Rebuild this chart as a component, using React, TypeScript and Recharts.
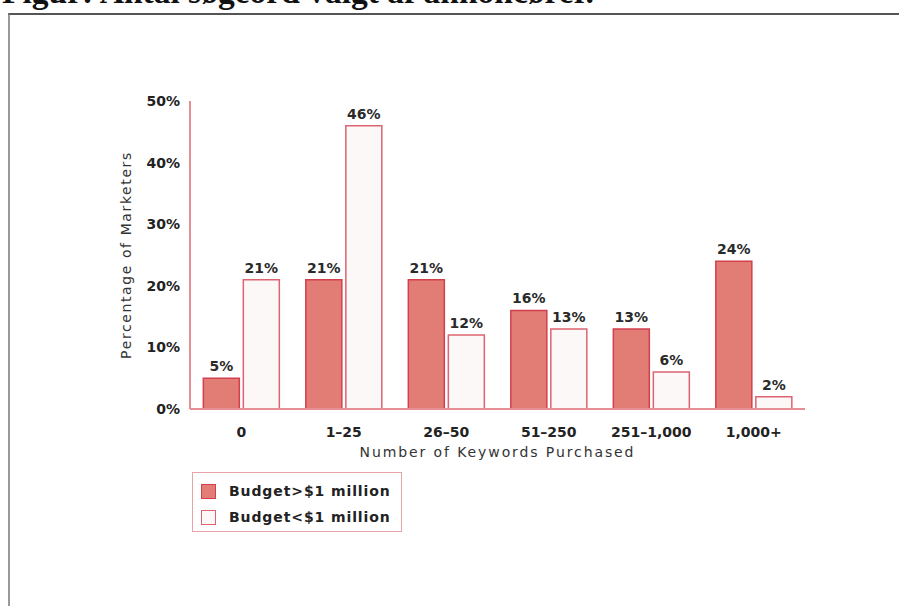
import React from "react";
import {
  BarChart,
  Bar,
  XAxis,
  YAxis,
  Legend,
  LabelList,
} from "recharts";

const categories = ["0", "1–25", "26–50", "51–250", "251–1,000", "1,000+"];
const overMillion = [5, 21, 21, 16, 13, 24];
const underMillion = [21, 46, 12, 13, 6, 2];
const yTicks = [0, 10, 20, 30, 40, 50];

const seriesNames = {
  big: "Budget>$1 million",
  small: "Budget<$1 million",
};

const data = categories.map((c, i) => ({
  cat: c,
  big: overMillion[i],
  small: underMillion[i],
}));

const SANS = "'DejaVu Sans', 'Liberation Sans', sans-serif";
const RED_FILL = "#e27d76";
const RED_STROKE = "#d23f4d";
const PALE_FILL = "#fdf8f8";
const PALE_STROKE = "#dc6470";
const AXIS = "#e58e96";

const LegendBox = () => (
  <div
    style={{
      border: "1.5px solid #e6a3a8",
      width: 210,
      height: 60,
      boxSizing: "border-box",
      padding: "5px 0 0 8px",
      fontFamily: SANS,
      fontWeight: "bold",
      fontSize: 14,
      letterSpacing: 0.9,
      color: "#222",
      background: "#fff",
    }}
  >
    <div style={{ display: "flex", alignItems: "center", height: 26 }}>
      <div
        style={{
          width: 13,
          height: 13,
          background: RED_FILL,
          border: `1.5px solid ${RED_STROKE}`,
          marginRight: 13,
        }}
      />
      <span>{seriesNames.big}</span>
    </div>
    <div style={{ display: "flex", alignItems: "center", height: 26 }}>
      <div
        style={{
          width: 13,
          height: 13,
          background: PALE_FILL,
          border: `1.5px solid ${PALE_STROKE}`,
          marginRight: 13,
        }}
      />
      <span>{seriesNames.small}</span>
    </div>
  </div>
);

export default function App() {
  return (
    <div
      style={{
        position: "absolute",
        top: 0,
        left: 0,
        width: 899,
        height: 606,
        overflow: "hidden",
        background: "#fff",
      }}
    >
      <svg
        width={899}
        height={606}
        style={{ position: "absolute", top: 0, left: 0 }}
      >
        <text
          x={2}
          y={3}
          fontFamily="'Liberation Serif', 'DejaVu Serif', serif"
          fontWeight="bold"
          fontSize={33.5}
          fill="#111"
        >
          Figur: Antal søgeord valgt af annoncører.
        </text>
        <line x1={8} y1={14} x2={899} y2={14} stroke="#555" strokeWidth={2} />
        <line x1={9} y1={13} x2={9} y2={606} stroke="#777" strokeWidth={1.5} />
      </svg>
      <div style={{ position: "absolute", top: 0, left: 0 }}>
        <BarChart
          width={899}
          height={606}
          data={data}
          margin={{ top: 101, right: 94, left: 130, bottom: 167 }}
          barCategoryGap="13%"
          barGap={4}
        >
          <XAxis
            dataKey="cat"
            height={30}
            tickLine={false}
            tickSize={0}
            tickMargin={18}
            axisLine={{ stroke: AXIS, strokeWidth: 2 }}
            tick={{ fill: "#222", fontSize: 14, fontWeight: "bold", fontFamily: SANS }}
            interval={0}
            label={{
              value: "Number of Keywords Purchased",
              position: "insideBottom",
              offset: -18,
              style: {
                fill: "#333",
                fontSize: 14,
                fontFamily: SANS,
                letterSpacing: 1.9,
              },
            }}
          />
          <YAxis
            width={60}
            domain={[0, 50]}
            ticks={yTicks}
            tickFormatter={(v) => `${v}%`}
            tickLine={false}
            tickSize={0}
            tickMargin={10}
            axisLine={{ stroke: AXIS, strokeWidth: 2 }}
            tick={{ fill: "#222", fontSize: 14, fontWeight: "bold", fontFamily: SANS }}
            label={{
              value: "Percentage of Marketers",
              angle: -90,
              position: "insideLeft",
              offset: -4,
              style: {
                textAnchor: "middle",
                fill: "#333",
                fontSize: 14,
                fontFamily: SANS,
                letterSpacing: 1.6,
              },
            }}
          />
          <Legend
            layout="vertical"
            verticalAlign="middle"
            align="center"
            content={() => <LegendBox />}
            wrapperStyle={{ position: "absolute", left: 192, top: 472, width: 210 }}
          />
          <Bar
            dataKey="big"
            name={seriesNames.big}
            fill={RED_FILL}
            stroke={RED_STROKE}
            strokeWidth={1.5}
            isAnimationActive={false}
          >
            <LabelList
              dataKey="big"
              position="top"
              offset={7}
              formatter={(v: number) => `${v}%`}
              style={{ fill: "#2a2a2a", fontSize: 14, fontWeight: "bold", fontFamily: SANS }}
            />
          </Bar>
          <Bar
            dataKey="small"
            name={seriesNames.small}
            fill={PALE_FILL}
            stroke={PALE_STROKE}
            strokeWidth={1.5}
            isAnimationActive={false}
          >
            <LabelList
              dataKey="small"
              position="top"
              offset={7}
              formatter={(v: number) => `${v}%`}
              style={{ fill: "#2a2a2a", fontSize: 14, fontWeight: "bold", fontFamily: SANS }}
            />
          </Bar>
        </BarChart>
      </div>
    </div>
  );
}
